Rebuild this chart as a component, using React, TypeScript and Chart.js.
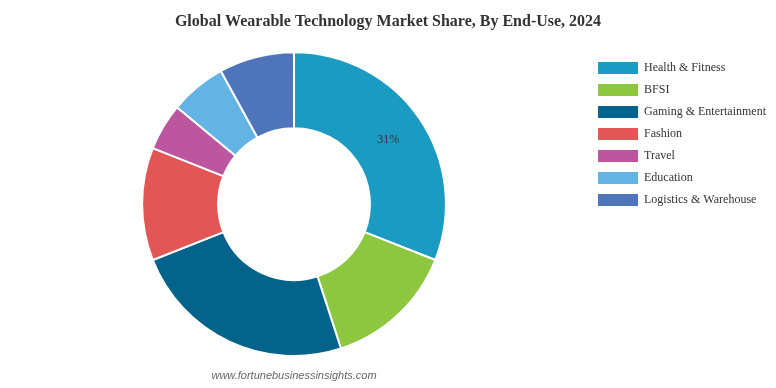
import React, { useEffect, useRef } from "react";
import { Chart, registerables } from "chart.js";

Chart.register(...registerables);

const categories = [
  "Health & Fitness",
  "BFSI",
  "Gaming & Entertainment",
  "Fashion",
  "Travel",
  "Education",
  "Logistics & Warehouse",
];
const shares = [31, 14, 24, 12, 5, 6, 8];
const colors = ["#1b9ac2", "#8dc63f", "#03638a", "#e35656", "#bc569e", "#63b4e4", "#4e74ba"];
const shownLabels = [0];
const titleText = "Global Wearable Technology Market Share, By End-Use, 2024";
const watermark = "www.fortunebusinessinsights.com";

const labelPlugin = {
  id: "sliceLabels",
  afterDatasetsDraw(chart: any) {
    const ctx = chart.ctx;
    const meta = chart.getDatasetMeta(0);
    const total = shares.reduce((a, b) => a + b, 0);
    ctx.save();
    ctx.font = "12px 'Liberation Serif', 'Times New Roman', serif";
    ctx.fillStyle = "#333333";
    ctx.textAlign = "center";
    ctx.textBaseline = "middle";
    shownLabels.forEach((i) => {
      const arc = meta.data[i];
      const p = arc.tooltipPosition();
      ctx.fillText(Math.round((shares[i] / total) * 100) + "%", p.x, p.y);
    });
    ctx.restore();
  },
};

const watermarkPlugin = {
  id: "watermark",
  afterDraw(chart: any) {
    const ctx = chart.ctx;
    const area = chart.chartArea;
    ctx.save();
    ctx.font = "italic 11px 'Liberation Sans', Arial, sans-serif";
    ctx.fillStyle = "#666666";
    ctx.textAlign = "center";
    ctx.textBaseline = "middle";
    ctx.fillText(watermark, (area.left + area.right) / 2, 376);
    ctx.restore();
  },
};

export default function App() {
  const ref = useRef<HTMLCanvasElement>(null);
  useEffect(() => {
    const chart = new Chart(ref.current!, {
      type: "doughnut",
      data: {
        labels: categories,
        datasets: [
          {
            data: shares,
            backgroundColor: colors,
            borderColor: "#ffffff",
            borderWidth: 2,
          },
        ],
      },
      options: {
        animation: false,
        responsive: true,
        maintainAspectRatio: false,
        cutout: "50%",
        events: [],
        layout: { padding: { bottom: 31 } },
        plugins: {
          title: {
            display: true,
            text: titleText,
            color: "#333333",
            font: { family: "'Liberation Serif', 'Times New Roman', serif", size: 16, weight: "bold" },
            padding: { top: 12, bottom: 20 },
          },
          legend: {
            position: "right",
            align: "start",
            title: {
              display: true,
              text: "",
              font: { size: 10, lineHeight: 1 },
              padding: { top: 42, bottom: 0 },
            },
            labels: {
              color: "#333333",
              font: { family: "'Liberation Serif', 'Times New Roman', serif", size: 12 },
              boxWidth: 40,
              boxHeight: 12,
              padding: 10,
              generateLabels: () =>
                categories.map((name, i) => ({
                  text: name,
                  fillStyle: colors[i],
                  strokeStyle: colors[i],
                  lineWidth: 0,
                  hidden: false,
                  index: i,
                  fontColor: "#333333",
                })),
            },
          },
          tooltip: { enabled: false },
        },
      },
      plugins: [labelPlugin, watermarkPlugin],
    });
    return () => chart.destroy();
  }, []);
  return (
    <div style={{ position: "fixed", left: 0, top: 0, width: 776, height: 388, background: "#fff" }}>
      <canvas ref={ref} />
    </div>
  );
}
